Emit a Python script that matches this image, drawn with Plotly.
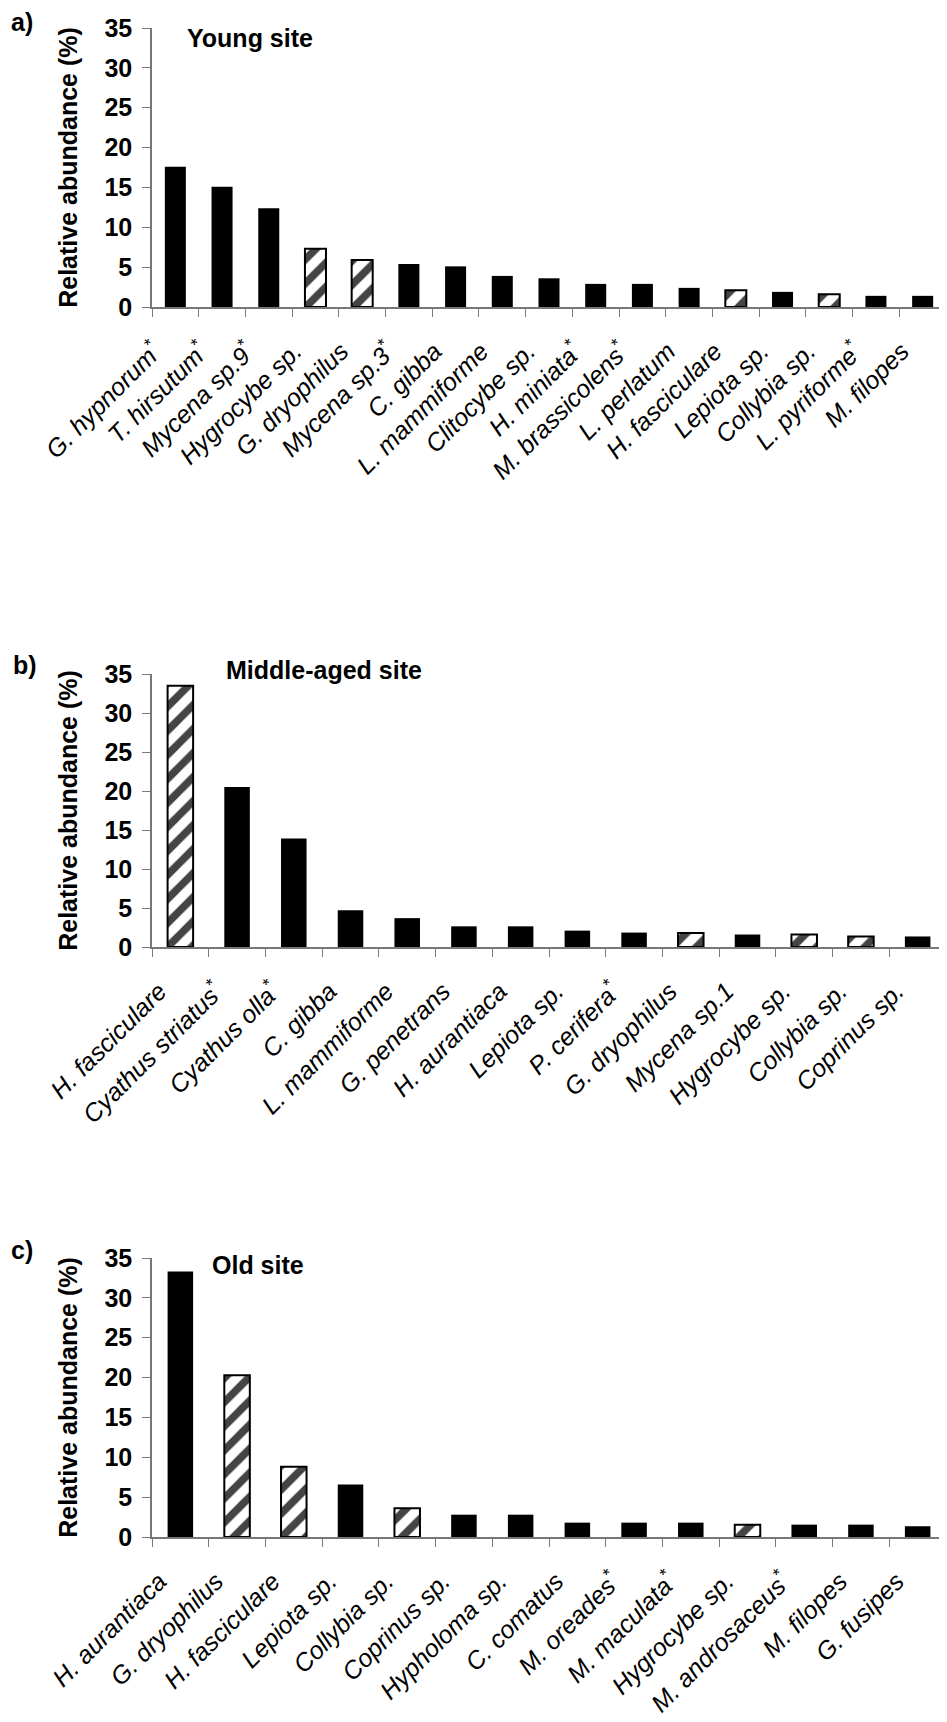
import plotly.graph_objects as go

PAGE_W, PAGE_H = 947, 1722
OFF = 8                      # default body margin of the html page
W, H = PAGE_W - OFF, PAGE_H - OFF

# ---------------- data ----------------
a_species = ["G. hypnorum*", "T. hirsutum*", "Mycena sp.9*", "Hygrocybe sp.", "G. dryophilus",
             "Mycena sp.3*", "C. gibba", "L. mammiforme", "Clitocybe sp.", "H. miniata*",
             "M. brassicolens*", "L. perlatum", "H. fasciculare", "Lepiota sp.", "Collybia sp.",
             "L. pyriforme*", "M. filopes"]
a_values = [17.6, 15.1, 12.4, 7.3, 5.9, 5.4, 5.1, 3.9, 3.6, 2.9, 2.9, 2.4, 2.1, 1.9, 1.6, 1.4, 1.4]
a_hatched = ["Hygrocybe sp.", "G. dryophilus", "H. fasciculare", "Collybia sp."]

b_species = ["H. fasciculare", "Cyathus striatus*", "Cyathus olla*", "C. gibba", "L. mammiforme",
             "G. penetrans", "H. aurantiaca", "Lepiota sp.", "P. cerifera*", "G. dryophilus",
             "Mycena sp.1", "Hygrocybe sp.", "Collybia sp.", "Coprinus sp."]
b_values = [33.5, 20.5, 13.9, 4.7, 3.7, 2.65, 2.65, 2.1, 1.85, 1.8, 1.6, 1.6, 1.35, 1.35]
b_hatched = ["H. fasciculare", "G. dryophilus", "Hygrocybe sp.", "Collybia sp."]

c_species = ["H. aurantiaca", "G. dryophilus", "H. fasciculare", "Lepiota sp.", "Collybia sp.",
             "Coprinus sp.", "Hypholoma sp.", "C. comatus", "M. oreades*", "M. maculata*",
             "Hygrocybe sp.", "M. androsaceus*", "M. filopes", "G. fusipes"]
c_values = [33.3, 20.3, 8.8, 6.6, 3.6, 2.8, 2.8, 1.8, 1.8, 1.8, 1.55, 1.55, 1.55, 1.35]
c_hatched = ["G. dryophilus", "H. fasciculare", "Collybia sp.", "Hygrocybe sp."]

panel_letters = ["a)", "b)", "c)"]
panel_titles = ["Young site", "Middle-aged site", "Old site"]
y_title = "Relative abundance (%)"
y_ticks = [0, 5, 10, 15, 20, 25, 30, 35]

# ---------------- layout helpers ----------------
FONT = "Liberation Sans, Arial, sans-serif"
FS = 25

def fmt(name):
    if name.endswith("*"):
        return "<i>" + name[:-1] + "</i><sup>*</sup>"
    return "<i>" + name + "</i>"

def px(x):
    return (x - OFF) / W

def py(y):
    return 1 - (y - OFF) / H

# plot areas in page pixels: (top, bottom)
x_left, x_right = 152, 946
areas = [(28, 307), (674, 947), (1258, 1537)]

fig = go.Figure()
panels = [(a_species, a_values, a_hatched), (b_species, b_values, b_hatched), (c_species, c_values, c_hatched)]

for i, (sp, vals, hat) in enumerate(panels):
    ax = "" if i == 0 else str(i + 1)
    is_h = [s in hat for s in sp]
    fig.add_trace(go.Bar(
        x=sp, y=vals,
        xaxis="x" + ax, yaxis="y" + ax,
        width=0.45,
        marker=dict(
            color=["white" if h else "black" for h in is_h],
            line=dict(color="black", width=[2 if h else 0 for h in is_h]),
            pattern=dict(shape=["/" if h else "" for h in is_h],
                         fgcolor="black", bgcolor="white", fgopacity=1,
                         size=17, solidity=0.45),
        ),
        showlegend=False,
    ))
    top, bot = areas[i]
    fig.layout["xaxis" + ax] = dict(
        domain=[px(x_left), min(px(x_right), 1)], anchor="y" + ax, automargin=False,
        type="category", categoryorder="array", categoryarray=sp,
        tickmode="array", tickvals=sp, ticktext=[fmt(s) for s in sp],
        tickangle=-45, tickson="boundaries", ticks="outside", ticklen=8,
        tickcolor="#777", showline=True, linecolor="#777", linewidth=1.5,
        showgrid=False, zeroline=False, ticklabelstandoff=18, ticklabelshift=-21,
        tickfont=dict(family=FONT, size=FS, color="black"),
        range=[-0.5, len(sp) - 0.5], fixedrange=True,
    )
    fig.layout["yaxis" + ax] = dict(
        domain=[py(bot), py(top)], anchor="x" + ax, automargin=False,
        range=[0, 35], tickvals=y_ticks, ticks="outside", ticklen=8,
        tickcolor="#777", showline=True, linecolor="#777", linewidth=1.5,
        showgrid=False, zeroline=False, ticklabelstandoff=5,
        tickfont=dict(family=FONT, size=FS, color="black", weight="bold"),
        title=dict(text=y_title, standoff=20,
                   font=dict(family=FONT, size=FS, color="black", weight="bold")),
    )

ann = []
letter_pos = [(22, 22), (25, 665), (22, 1250)]
title_pos = [(185, 38), (224, 670), (210, 1265)]
for i in range(3):
    lx, ly = letter_pos[i]
    ann.append(dict(text="<b>" + panel_letters[i] + "</b>", x=px(lx), y=py(ly),
                    xref="paper", yref="paper", xanchor="center", yanchor="middle",
                    showarrow=False, font=dict(family=FONT, size=FS, color="black")))
    tx, ty = title_pos[i]
    ann.append(dict(text="<b>" + panel_titles[i] + "</b>", x=px(tx), y=py(ty),
                    xref="paper", yref="paper", xanchor="left", yanchor="middle",
                    showarrow=False, font=dict(family=FONT, size=FS, color="black")))

fig.update_layout(
    width=W, height=H,
    margin=dict(l=0, r=0, t=0, b=0, autoexpand=False),
    paper_bgcolor="white", plot_bgcolor="white",
    annotations=ann,
    font=dict(family=FONT, size=FS, color="black"),
)

fig.write_html("out.html")
